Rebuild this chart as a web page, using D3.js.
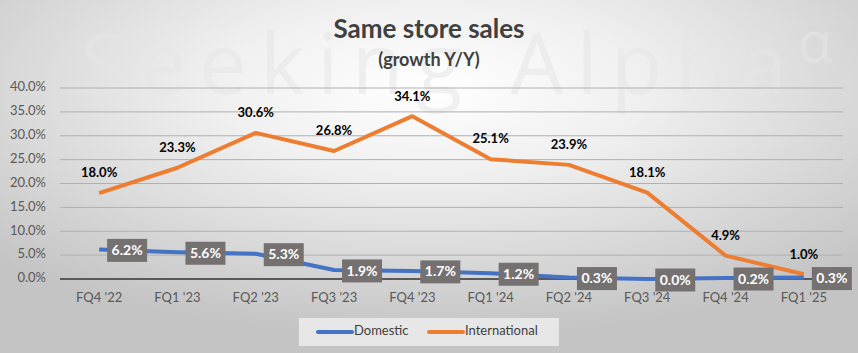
<!DOCTYPE html>
<html>
<head>
<meta charset="utf-8">
<script src="https://cdn.jsdelivr.net/npm/d3@7"></script>
<style>
  body { margin: 0; }
  svg { display: block; font-family: Lato, "Open Sans", sans-serif; }
  .tick-label { fill: #595959; font-size: 13px; }
  .intl-label { fill: #000; font-size: 13px; font-weight: bold; }
  .dom-label { fill: #fff; font-size: 14px; font-weight: bold; }
</style>
</head>
<body>
<div class="wrapper"></div>
<script>
const quarters = ["FQ4 '22", "FQ1 '23", "FQ2 '23", "FQ3 '23", "FQ4 '23", "FQ1 '24", "FQ2 '24", "FQ3 '24", "FQ4 '24", "FQ1 '25"]
const domestic = [6.2, 5.6, 5.3, 1.9, 1.7, 1.2, 0.3, 0.0, 0.2, 0.3]
const international = [18.0, 23.3, 30.6, 26.8, 34.1, 25.1, 23.9, 18.1, 4.9, 1.0]
const yTicks = [0, 5, 10, 15, 20, 25, 30, 35, 40]
const seriesNames = ["Domestic", "International"]
const seriesColors = ["#4472C4", "#ED7D31"]

function drawChart() {
    let dimensions = {
        width: 858,
        height: 353,
        margin: { top: 88, right: 15, bottom: 74, left: 60 },
    }
    dimensions.boundedWidth = dimensions.width - dimensions.margin.left - dimensions.margin.right
    dimensions.boundedHeight = dimensions.height - dimensions.margin.top - dimensions.margin.bottom

    const wrapper = d3.select(".wrapper")
        .append("svg")
        .attr("width", dimensions.width)
        .attr("height", dimensions.height)

    const defs = wrapper.append("defs")
    const bg = defs.append("radialGradient")
        .attr("id", "bg-gradient")
        .attr("cx", "50%").attr("cy", "25%")
        .attr("r", "70%")
    bg.append("stop").attr("offset", "0%").attr("stop-color", "#ffffff")
    bg.append("stop").attr("offset", "35%").attr("stop-color", "#f0f0f0")
    bg.append("stop").attr("offset", "100%").attr("stop-color", "#c4c4c4")

    wrapper.append("rect")
        .attr("width", dimensions.width)
        .attr("height", dimensions.height)
        .attr("fill", "url(#bg-gradient)")

    // watermark
    const mark = wrapper.append("g")
        .style("font-family", "'Open Sans', 'Noto Sans', sans-serif")
        .attr("fill", "#e6e6e6")
        .attr("opacity", 0.55)
    mark.append("text")
        .attr("x", 80)
        .attr("y", 94)
        .attr("textLength", 707)
        .attr("lengthAdjust", "spacing")
        .style("font-size", "84px")
        .text("Seeking Alpha")
    mark.append("text")
        .attr("x", 798)
        .attr("y", 62)
        .style("font-size", "56px")
        .text("\u03B1")

    // titles
    wrapper.append("text")
        .attr("x", dimensions.width / 2)
        .attr("y", 38)
        .attr("text-anchor", "middle")
        .style("font-size", "26px")
        .style("font-weight", "bold")
        .attr("fill", "#404040")
        .text("Same store sales")
    wrapper.append("text")
        .attr("x", dimensions.width / 2)
        .attr("y", 66)
        .attr("text-anchor", "middle")
        .style("font-size", "18px")
        .style("font-weight", "bold")
        .attr("fill", "#404040")
        .text("(growth Y/Y)")

    const bounds = wrapper.append("g")
        .attr("transform", `translate(${dimensions.margin.left}, ${dimensions.margin.top})`)

    const xScale = d3.scalePoint()
        .domain(quarters)
        .range([0, dimensions.boundedWidth])
        .padding(0.5)

    const yScale = d3.scaleLinear()
        .domain([0, 40])
        .range([dimensions.boundedHeight, 0])

    // gridlines
    bounds.selectAll(".grid")
        .data(yTicks.filter(d => d !== 0))
        .enter().append("line")
        .attr("x1", 0)
        .attr("x2", dimensions.boundedWidth)
        .attr("y1", d => yScale(d))
        .attr("y2", d => yScale(d))
        .attr("stroke", "#b0b0b0")
        .attr("stroke-width", 1)

    bounds.selectAll(".ytick")
        .data(yTicks)
        .enter().append("text")
        .attr("class", "tick-label")
        .attr("x", -14)
        .attr("y", d => yScale(d))
        .attr("text-anchor", "end")
        .attr("dominant-baseline", "middle")
        .text(d => d.toFixed(1) + "%")

    bounds.selectAll(".xtick")
        .data(quarters)
        .enter().append("text")
        .attr("class", "tick-label")
        .attr("x", d => xScale(d))
        .attr("y", dimensions.boundedHeight + 23)
        .attr("text-anchor", "middle")
        .text(d => d)

    const lineGenerator = values => d3.line()
        .x((d, i) => xScale(quarters[i]))
        .y(d => yScale(d))(values)

    bounds.append("path")
        .attr("d", lineGenerator(international))
        .attr("fill", "none")
        .attr("stroke", seriesColors[1])
        .attr("stroke-width", 4)
        .attr("stroke-linejoin", "round")

    // zero line
    bounds.append("line")
        .attr("x1", 0)
        .attr("x2", dimensions.boundedWidth)
        .attr("y1", yScale(0))
        .attr("y2", yScale(0))
        .attr("stroke", "#595959")
        .attr("stroke-width", 2)

    bounds.append("path")
        .attr("d", lineGenerator(domestic))
        .attr("fill", "none")
        .attr("stroke", seriesColors[0])
        .attr("stroke-width", 4)
        .attr("stroke-linejoin", "round")

    // international labels (above)
    bounds.selectAll(".intl-label")
        .data(international)
        .enter().append("text")
        .attr("class", "intl-label")
        .attr("x", (d, i) => xScale(quarters[i]))
        .attr("y", d => yScale(d) - 19)
        .attr("text-anchor", "middle")
        .attr("dominant-baseline", "middle")
        .text(d => d.toFixed(1) + "%")

    // domestic labels (right, boxed)
    const boxW = 40, boxH = 23
    const domLabels = bounds.selectAll(".dom-label-g")
        .data(domestic)
        .enter().append("g")
        .attr("transform", (d, i) => `translate(${xScale(quarters[i]) + 8}, ${yScale(d) + 1})`)
    domLabels.append("rect")
        .attr("x", 0)
        .attr("y", -boxH / 2)
        .attr("width", boxW)
        .attr("height", boxH)
        .attr("fill", "#767171")
    domLabels.append("text")
        .attr("class", "dom-label")
        .attr("x", boxW / 2)
        .attr("y", 1)
        .attr("text-anchor", "middle")
        .attr("dominant-baseline", "middle")
        .text(d => d.toFixed(1) + "%")

    // legend
    const legend = wrapper.append("g")
        .attr("transform", "translate(299, 318)")
    legend.append("rect")
        .attr("width", 260)
        .attr("height", 28)
        .attr("fill", "#f2f2f2")
        .attr("opacity", 0.75)
    const legendItem = legend.selectAll(".legend-item")
        .data(seriesNames)
        .enter().append("g")
        .attr("transform", (d, i) => `translate(${i === 0 ? 19 : 130}, 14)`)
    legendItem.append("line")
        .attr("x1", 0).attr("x2", 34)
        .attr("stroke", (d, i) => seriesColors[i])
        .attr("stroke-width", 4)
        .attr("stroke-linecap", "round")
    legendItem.append("text")
        .attr("x", 36)
        .attr("dominant-baseline", "middle")
        .style("font-size", "13px")
        .attr("fill", "#404040")
        .text(d => d)
}

drawChart()
</script>
</body>
</html>
